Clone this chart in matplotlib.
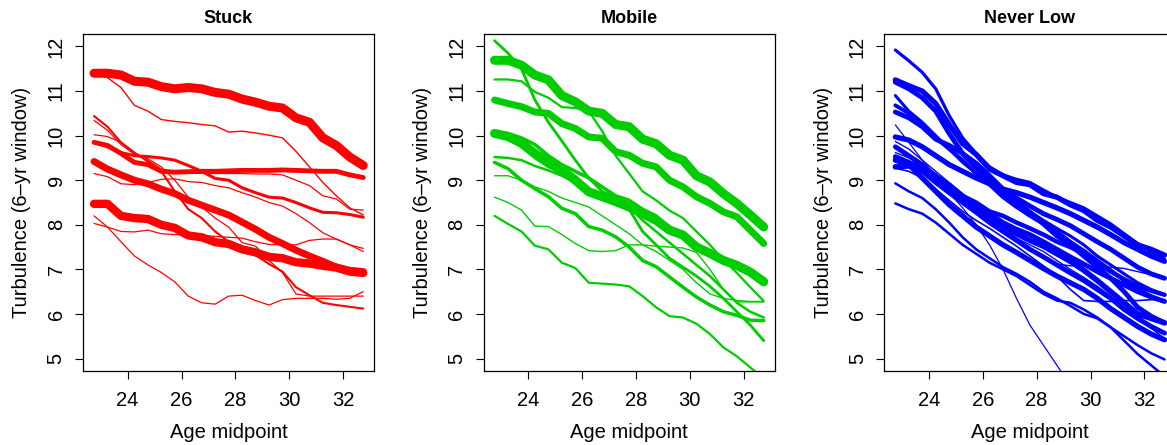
import numpy as np
import matplotlib
matplotlib.use("Agg")
import matplotlib.pyplot as plt

plt.rcParams['font.family'] = ['Liberation Sans', 'DejaVu Sans']

# age midpoints of the 6-yr windows
ages = [22.75, 23.25, 23.75, 24.25, 24.75, 25.25, 25.75, 26.25, 26.75, 27.25, 27.75,
        28.25, 28.75, 29.25, 29.75, 30.25, 30.75, 31.25, 31.75, 32.25, 32.75]

# Stuck
stuck_lines = [
    [11.40, 11.40, 11.36, 11.22, 11.20, 11.10, 11.05, 11.08, 11.05, 10.97, 10.93, 10.82, 10.75, 10.66, 10.62, 10.40, 10.30, 9.95, 9.78, 9.52, 9.33],
    [8.47, 8.47, 8.20, 8.15, 8.13, 8.00, 7.93, 7.76, 7.72, 7.61, 7.57, 7.45, 7.38, 7.28, 7.25, 7.16, 7.13, 7.08, 7.04, 6.95, 6.92],
    [9.42, 9.25, 9.12, 9.00, 8.92, 8.80, 8.70, 8.55, 8.44, 8.33, 8.22, 8.06, 7.90, 7.72, 7.58, 7.43, 7.30, 7.18, 7.05, 6.98, 6.95],
    [9.85, 9.78, 9.60, 9.40, 9.35, 9.20, 9.18, 9.19, 9.20, 9.20, 9.21, 9.22, 9.22, 9.22, 9.23, 9.22, 9.21, 9.20, 9.20, 9.12, 9.06],
    [9.85, 9.75, 9.62, 9.55, 9.53, 9.50, 9.45, 9.33, 9.20, 9.04, 9.00, 8.83, 8.72, 8.62, 8.60, 8.50, 8.38, 8.28, 8.27, 8.23, 8.17],
    [11.40, 11.30, 11.08, 10.68, 10.55, 10.36, 10.32, 10.29, 10.25, 10.22, 10.08, 10.10, 10.06, 10.01, 9.95, 9.65, 9.30, 8.95, 8.65, 8.38, 8.22],
    [10.44, 10.20, 9.85, 9.62, 9.42, 9.20, 8.75, 8.35, 8.15, 7.85, 7.62, 7.45, 7.32, 7.12, 6.95, 6.60, 6.42, 6.25, 6.20, 6.16, 6.12],
    [10.34, 10.12, 9.80, 9.58, 9.48, 9.30, 9.00, 8.62, 8.40, 8.15, 7.95, 7.60, 7.52, 7.20, 6.93, 6.45, 6.40, 6.40, 6.40, 6.40, 6.40],
    [10.02, 9.98, 9.85, 9.60, 9.45, 9.25, 9.18, 9.16, 9.16, 9.15, 9.15, 9.15, 9.14, 9.14, 9.12, 9.00, 8.88, 8.65, 8.58, 8.35, 8.33],
    [9.15, 9.08, 8.92, 8.90, 8.95, 9.02, 9.03, 8.97, 8.95, 8.88, 8.83, 8.72, 8.62, 8.50, 8.42, 8.25, 8.05, 7.82, 7.68, 7.55, 7.40],
    [8.03, 7.95, 7.85, 7.84, 7.88, 7.80, 7.78, 7.77, 7.76, 7.74, 7.72, 7.70, 7.62, 7.56, 7.55, 7.55, 7.65, 7.68, 7.68, 7.55, 7.47],
    [8.20, 7.95, 7.62, 7.30, 7.10, 6.93, 6.72, 6.40, 6.25, 6.22, 6.40, 6.42, 6.30, 6.20, 6.32, 6.35, 6.35, 6.35, 6.33, 6.35, 6.50],
]
stuck_widths = [6.5, 6.0, 5.0, 3.5, 2.2, 1.0, 1.5, 0.9, 0.9, 0.9, 0.9, 0.9]

# Mobile
mobile_lines = [
    [11.69, 11.69, 11.58, 11.36, 11.25, 10.90, 10.76, 10.55, 10.50, 10.25, 10.20, 9.92, 9.82, 9.56, 9.45, 9.10, 8.96, 8.70, 8.48, 8.22, 7.95],
    [10.80, 10.72, 10.65, 10.53, 10.50, 10.27, 10.16, 9.97, 9.94, 9.64, 9.56, 9.38, 9.30, 9.00, 8.85, 8.63, 8.48, 8.29, 8.18, 7.88, 7.58],
    [10.05, 9.98, 9.83, 9.60, 9.41, 9.23, 9.00, 8.74, 8.63, 8.52, 8.40, 8.25, 8.10, 7.88, 7.77, 7.50, 7.36, 7.20, 7.09, 6.94, 6.72],
    [10.08, 10.05, 9.95, 9.80, 9.55, 9.35, 9.20, 9.05, 8.85, 8.65, 8.55, 8.35, 8.20, 7.95, 7.80, 7.55, 7.40, 7.22, 7.10, 6.98, 6.80],
    [10.00, 9.95, 9.75, 9.50, 9.30, 9.15, 8.95, 8.80, 8.70, 8.55, 8.45, 8.30, 8.15, 7.92, 7.72, 7.45, 7.30, 7.15, 7.05, 6.90, 6.70],
    [12.13, 11.85, 11.50, 10.80, 10.30, 9.88, 9.45, 9.05, 8.75, 8.60, 8.35, 7.85, 7.55, 7.25, 7.05, 6.85, 6.62, 6.35, 6.05, 5.75, 5.40],
    [11.26, 11.26, 11.22, 10.98, 10.85, 10.64, 10.62, 10.55, 10.10, 9.55, 9.15, 8.75, 8.55, 8.32, 8.15, 7.85, 7.55, 7.22, 6.92, 6.60, 6.29],
    [9.52, 9.50, 9.45, 9.32, 9.22, 9.10, 8.95, 8.80, 8.68, 8.55, 8.40, 8.10, 7.85, 7.60, 7.35, 7.10, 6.85, 6.55, 6.25, 6.05, 5.92],
    [9.40, 9.26, 9.00, 8.81, 8.63, 8.37, 8.25, 7.96, 7.88, 7.73, 7.50, 7.20, 7.06, 6.83, 6.60, 6.38, 6.20, 6.05, 5.97, 5.86, 5.85],
    [9.10, 9.10, 9.00, 8.85, 8.75, 8.60, 8.50, 8.40, 8.20, 8.00, 7.80, 7.55, 7.40, 7.20, 7.00, 6.70, 6.45, 6.35, 6.30, 6.28, 6.28],
    [8.62, 8.50, 8.33, 7.97, 7.96, 7.78, 7.58, 7.42, 7.40, 7.42, 7.55, 7.55, 7.52, 7.50, 7.48, 7.38, 7.00, 6.55, 6.27, 6.27, 6.27],
    [8.20, 8.02, 7.85, 7.53, 7.45, 7.15, 7.03, 6.70, 6.68, 6.66, 6.62, 6.40, 6.15, 5.95, 5.92, 5.78, 5.55, 5.25, 5.05, 4.80, 4.55],
]
mobile_widths = [6.5, 5.0, 6.5, 2.5, 2.0, 2.0, 1.6, 1.8, 2.5, 1.0, 1.0, 1.6]

# Never Low
never_lines = [
    [11.92, 11.68, 11.42, 11.05, 10.45, 9.95, 9.60, 9.30, 9.12, 9.02, 8.95, 8.78, 8.62, 8.50, 8.38, 8.20, 8.02, 7.80, 7.58, 7.40, 7.23],
    [11.25, 11.12, 11.00, 10.72, 10.25, 9.82, 9.58, 9.25, 9.10, 8.95, 8.90, 8.70, 8.62, 8.45, 8.32, 8.10, 7.95, 7.75, 7.55, 7.45, 7.32],
    [11.20, 11.05, 10.85, 10.55, 10.05, 9.60, 9.28, 9.00, 8.80, 8.60, 8.42, 8.25, 8.12, 7.98, 7.80, 7.62, 7.45, 7.25, 7.05, 6.90, 6.80],
    [10.90, 10.55, 10.30, 10.00, 9.70, 9.40, 9.15, 8.92, 8.70, 8.48, 8.30, 8.10, 7.92, 7.75, 7.55, 7.30, 7.10, 6.90, 6.70, 6.55, 6.43],
    [10.68, 10.50, 10.25, 9.95, 9.70, 9.45, 9.15, 8.90, 8.62, 8.40, 8.20, 8.02, 7.85, 7.62, 7.42, 7.20, 6.98, 6.75, 6.55, 6.40, 6.28],
    [10.53, 10.40, 10.20, 9.92, 9.78, 9.60, 9.38, 9.10, 8.80, 8.52, 8.28, 8.02, 7.75, 7.55, 7.30, 7.05, 6.80, 6.50, 6.15, 5.95, 5.80],
    [10.24, 9.85, 9.45, 9.10, 8.72, 8.38, 8.00, 7.55, 7.00, 6.35, 5.75, 5.30, 4.85, 4.40, None, None, None, None, None, None, None],
    [9.97, 9.90, 9.75, 9.55, 9.35, 9.20, 9.05, 8.92, 8.80, 8.72, 8.62, 8.50, 8.38, 8.25, 8.10, 7.95, 7.78, 7.60, 7.45, 7.30, 7.18],
    [9.62, 9.50, 9.35, 9.15, 8.90, 8.60, 8.30, 8.05, 7.85, 7.70, 7.55, 7.40, 7.20, 7.00, 6.82, 6.62, 6.40, 6.15, 5.90, 5.68, 5.45],
    [9.75, 9.55, 9.35, 9.08, 8.85, 8.62, 8.42, 8.25, 8.05, 7.90, 7.78, 7.62, 7.45, 7.28, 7.12, 6.95, 6.80, 6.65, 6.50, 6.38, 6.28],
    [9.53, 9.40, 9.20, 8.95, 8.72, 8.50, 8.28, 8.05, 7.85, 7.65, 7.45, 7.28, 7.10, 6.92, 6.75, 6.55, 6.35, 6.10, 5.90, 5.72, 5.57],
    [9.45, 9.35, 9.05, 8.75, 8.45, 8.20, 7.95, 7.75, 7.55, 7.38, 7.20, 7.02, 6.85, 6.70, 6.55, 6.35, 6.12, 5.92, 5.72, 5.55, 5.42],
    [8.93, 8.75, 8.60, 8.35, 8.05, 7.72, 7.45, 7.25, 7.05, 6.90, 6.72, 6.50, 6.35, 6.18, 6.00, 5.90, 5.70, 5.50, 5.30, 5.12, 4.98],
    [8.48, 8.35, 8.25, 8.05, 7.80, 7.55, 7.35, 7.15, 7.00, 6.85, 6.65, 6.45, 6.30, 6.25, 6.10, 5.92, 5.70, 5.40, 5.10, 4.85, 4.60],
    [9.30, 9.32, 9.25, 9.00, 8.80, 8.55, 8.35, 8.15, 7.98, 7.80, 7.65, 7.52, 7.35, 7.18, 6.98, 6.75, 6.50, 6.25, 6.00, 5.90, 5.80],
    [9.27, 9.20, 9.05, 8.80, 8.55, 8.30, 8.10, 7.92, 7.72, 7.52, 7.30, 7.08, 6.85, 6.55, 6.30, 6.28, 6.28, 6.30, 6.30, 6.32, 6.32],
    [9.50, 9.40, 9.30, 9.10, 8.90, 8.65, 8.50, 8.30, 8.20, 8.05, 7.92, 7.78, 7.62, 7.50, 7.35, 7.15, 6.95, 6.78, 6.62, 6.52, 6.43],
    [9.87, 9.70, 9.45, 9.20, 8.95, 8.70, 8.45, 8.20, 7.95, 7.70, 7.45, 7.25, 7.12, 7.08, 7.08, 7.06, 7.05, 7.02, 6.95, 6.88, 6.82],
]
never_widths = [2.3, 3.8, 3.5, 2.2, 2.8, 3.5, 0.9, 3.8, 1.0, 3.5, 3.5, 3.8, 1.8, 1.8, 4.0, 1.2, 3.2, 1.0]

panels = [
    ("Stuck", stuck_lines, stuck_widths, "#ff0000"),
    ("Mobile", mobile_lines, mobile_widths, "#00cd00"),
    ("Never Low", never_lines, never_widths, "#0000ff"),
]

W, H = 1167, 445
fig = plt.figure(figsize=(W / 100, H / 100), dpi=100)
lefts = [83, 483.5, 884.3]

for left, (title, lines, widths, color) in zip(lefts, panels):
    ax = fig.add_axes([left / W, (H - 371) / H, 291 / W, 337 / H])
    for vals, lw in zip(lines, widths):
        ax.plot(ages, np.array(vals, dtype=float), color=color, lw=lw,
                solid_capstyle='round', solid_joinstyle='round')
    ax.set_xlim(22.34, 33.15)
    ax.set_ylim(4.72, 12.28)
    ax.set_xticks([24, 26, 28, 30, 32])
    ax.set_yticks([5, 6, 7, 8, 9, 10, 11, 12])
    ax.tick_params(direction='out', length=6, width=0.8, labelsize=14.5)
    ax.tick_params(axis='x', pad=8.5)
    ax.tick_params(axis='y', pad=6.5)
    for lab in ax.get_yticklabels():
        lab.set_rotation(90)
        lab.set_va('center')
    for s in ax.spines.values():
        s.set_linewidth(0.9)
    ax.set_title(title, fontsize=13, fontweight='bold', pad=8)
    ax.set_xlabel("Age midpoint", fontsize=14.5, labelpad=9)
    ax.set_ylabel("Turbulence (6\u2013yr window)", fontsize=14.5, labelpad=11)

fig.savefig("out.png", dpi=100)
